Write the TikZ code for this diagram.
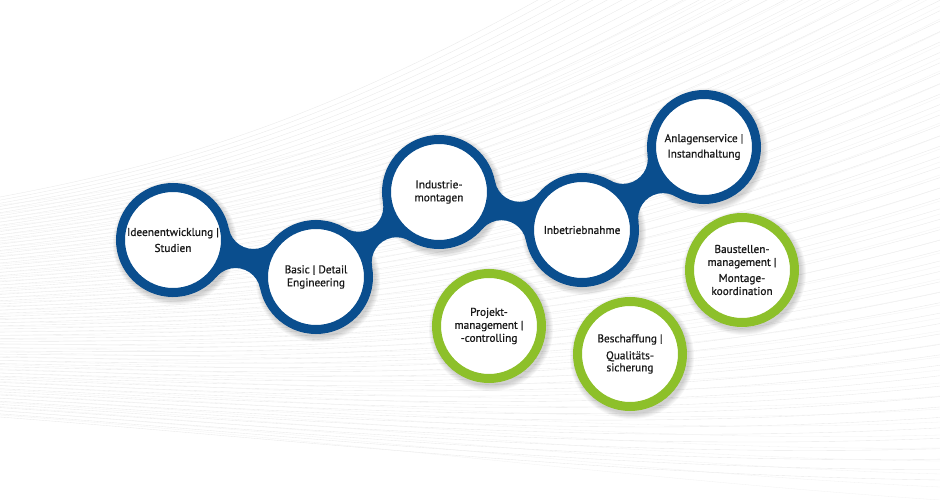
\documentclass[tikz,border=0pt]{standalone}
\usepackage{fontspec}
\setmainfont{PT Sans}
\newfontfamily\lblfont{PT Sans}[FakeBold=0.9]
\usetikzlibrary{calc,intersections}
\definecolor{cblue}{HTML}{0A4E8E}
\definecolor{cgreen}{HTML}{8DC02A}
\definecolor{ctext}{HTML}{1A1A1A}
\definecolor{cline}{HTML}{E9E9E9}
\definecolor{clinetwo}{HTML}{F1F1F1}
\newcommand\chainlink[2]{%
  \path[name path=#1o] (#1) circle (82pt);
  \path[name path=#2o] (#2) circle (82pt);
  \path[name intersections={of=#1o and #2o, by={#1#2u,#1#2v}}];
  \begin{scope}[even odd rule]
    \clip (-100,-100) rectangle (1040,600)
      (#1#2u) circle (25pt) (#1#2v) circle (25pt);
    \fill[cblue, nonzero rule] (#1) -- (#1#2u) -- (#2) -- (#1#2v) -- cycle;
  \end{scope}}
\begin{document}
\begin{tikzpicture}[x=1pt,y=-1pt,
  bgline/.style={draw=cline, line width=0.35pt},
  bgline2/.style={draw=clinetwo, line width=0.3pt},
  ring/.style={circle, minimum size=105pt, line width=9pt, fill=white, inner sep=0pt,
    align=center, text=ctext, font=\lblfont\fontsize{11.3}{13}\selectfont},
  bluering/.style={ring, draw=cblue},
  greenring/.style={ring, draw=cgreen}]
\useasboundingbox (0,0) rectangle (940,500);
\fill[white] (0,0) rectangle (940,500);
% background swoosh
\begin{scope}
  \clip (0,0) rectangle (940,500);
  \foreach \i in {0,...,70}{
    \pgfmathsetmacro\t{\i/70}
    \pgfmathsetmacro\ya{197+220*\t}
    \pgfmathsetmacro\xb{250+50*\t}
    \pgfmathsetmacro\yb{150+290*\t}
    \pgfmathsetmacro\xc{450+150*\t}
    \pgfmathsetmacro\yc{80+395*\t}
    \pgfmathsetmacro\yd{-250+730*\t}
    \draw[bgline] (0,\ya) .. controls (\xb,\yb) and (\xc,\yc) .. (940,\yd);
  }
  \foreach \i in {0,...,50}{
    \pgfmathsetmacro\t{\i/50}
    \pgfmathsetmacro\ya{205+210*\t}
    \pgfmathsetmacro\xb{300+40*\t}
    \pgfmathsetmacro\yb{170+270*\t}
    \pgfmathsetmacro\xc{520+120*\t}
    \pgfmathsetmacro\yc{120+360*\t}
    \pgfmathsetmacro\yd{-150+650*\t}
    \draw[bgline2] (0,\ya) .. controls (\xb,\yb) and (\xc,\yc) .. (940,\yd);
  }
\end{scope}
% centres
\coordinate (a1) at (173,240);
\coordinate (a2) at (316,277);
\coordinate (a3) at (439,192);
\coordinate (a4) at (582,230);
\coordinate (a5) at (704,147);
\coordinate (g1) at (489,326);
\coordinate (g2) at (630,354);
\coordinate (g3) at (742,270);
% soft shadows
\foreach \c in {a1,a2,a3,a4,a5,g1,g2,g3}{
  \foreach \k in {0,...,5}{
    \pgfmathsetmacro\rr{57+\k}
    \fill[black, opacity=0.03] ($(\c)+(2,3)$) circle (\rr pt);
  }
}
% chain bridges
\chainlink{a1}{a2}
\chainlink{a2}{a3}
\chainlink{a3}{a4}
\chainlink{a4}{a5}
% circles
\node[bluering] (n1) at (a1) {Ideenentwicklung |\\[3pt]Studien};
\node[bluering] (n2) at (a2) {Basic | Detail\\Engineering};
\node[bluering] (n3) at (a3) {Industrie-\\montagen};
\node[bluering] (n4) at (a4) {Inbetriebnahme};
\node[bluering] (n5) at (a5) {Anlagenservice |\\[2.5pt]Instandhaltung};
\node[greenring] (m1) at (g1) {Projekt-\\management |\\-controlling};
\node[greenring] (m2) at (g2) {Beschaffung |\\[4pt]Qualitäts-\\[-1pt]sicherung};
\node[greenring] (m3) at (g3) {Baustellen-\\management |\\[3pt]Montage-\\koordination};
\end{tikzpicture}
\end{document}
